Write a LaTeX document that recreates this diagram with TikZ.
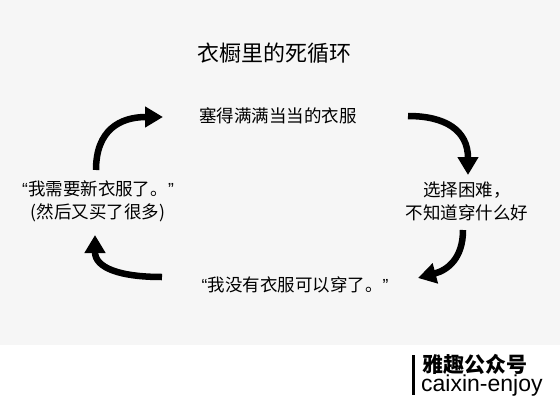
\documentclass[tikz,border=0pt]{standalone}
\usepackage{fontspec}
\setmainfont{Noto Sans CJK SC}
\newfontfamily\latfont{Liberation Sans}
\usetikzlibrary{arrows.meta}
\definecolor{bggray}{HTML}{F6F6F6}
\newcommand{\myoq}{{\latfont “}}
\newcommand{\mycq}{{\latfont ”}}
\tikzset{
  arr/.style={line width=6.5pt, -{Triangle[length=18pt,width=20pt]}},
  body/.style={font=\fontsize{17.5}{23}\selectfont, align=center, inner sep=0pt}
}
\begin{document}
\begin{tikzpicture}[x=1pt,y=-1pt]
\useasboundingbox (0,0) rectangle (560,402);
\fill[white] (0,0) rectangle (560,402);
\fill[bggray] (0,0) rectangle (560,345);
\node[font=\fontsize{22}{26}\selectfont, inner sep=0pt] (title) at (274,53) {衣橱里的死循环};
\node[body] (top) at (278,116) {塞得满满当当的衣服};
\node[body] (right) at (467,201) {选择困难，\\不知道穿什么好};
\node[body] (bottom) at (295,285) {\myoq 我没有衣服可以穿了。\mycq};
\node[body] (left) at (98,201) {\myoq 我需要新衣服了。\mycq\\(然后又买了很多)};
\coordinate (a1s) at (96,170);
\coordinate (a1e) at (163,117);
\coordinate (a2s) at (408,116);
\coordinate (a2e) at (468,175);
\coordinate (a3s) at (463,230);
\coordinate (a3e) at (418,278);
\coordinate (a4s) at (162,277);
\coordinate (a4e) at (95,235);
\draw[arr] (a1s) .. controls (96,130) and (120,117) .. (a1e);
\draw[arr] (a2s) .. controls (445,116) and (468,130) .. (a2e);
\draw[arr] (a3s) .. controls (463,258) and (448,270) .. (a3e);
\draw[arr] (a4s) .. controls (120,277) and (95,268) .. (a4e);
\fill[black] (412,355) rectangle (415,395);
\node[font=\fontsize{21}{24}\selectfont\bfseries, inner sep=0pt, anchor=west] (logo1) at (422,364.5) {雅趣公众号};
\node[font=\latfont\fontsize{23}{26}\selectfont, inner sep=0pt, anchor=base west] (logo2) at (421,391.5) {caixin-enjoy};
\end{tikzpicture}
\end{document}
